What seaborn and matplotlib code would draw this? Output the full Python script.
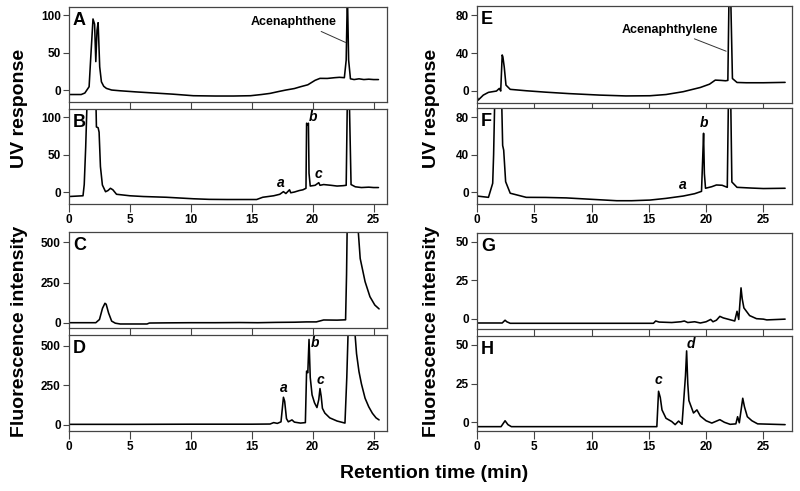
import numpy as np
import pandas as pd
import seaborn as sns
import matplotlib
matplotlib.use("Agg")
import matplotlib.pyplot as plt

# chromatogram traces (time in min, response)
t_a = [0.0, 1.0, 1.3, 1.65, 1.78, 1.97, 2.1, 2.2, 2.3, 2.39, 2.52, 2.66, 2.85, 3.07, 3.5, 4.2, 5.5, 7.0, 8.5, 10.2, 12.0, 13.5, 14.9, 15.8, 16.5, 17.2, 17.8, 18.5, 19.0, 19.6, 20.2, 20.6, 21.2, 21.8, 22.2, 22.6, 22.75, 22.85, 22.95, 23.1, 23.4, 23.8, 24.2, 24.6, 25.0, 25.4]
v_a = [-6, -6, -4, 4.4, 42, 95, 88, 38, 80, 90, 31, 11, 5, 2.2, 0, -1, -2.5, -4, -5.5, -7.6, -8, -8, -7.6, -6, -4.5, -2, 0, 2, 4.4, 7, 13, 15.6, 15.5, 16.5, 17, 16.5, 40, 130, 40, 15, 14, 15, 14, 14.5, 14, 14]

t_b = [0.0, 1.15, 1.25, 1.37, 1.5, 2.2, 2.25, 2.39, 2.47, 2.58, 2.74, 3.0, 3.2, 3.4, 3.6, 3.9, 5.0, 6.1, 8.0, 10.2, 11.5, 13.0, 15.4, 15.9, 16.8, 17.3, 17.6, 17.8, 18.1, 18.2, 18.5, 18.9, 19.2, 19.45, 19.5, 19.6, 19.65, 19.7, 19.8, 20.2, 20.5, 20.6, 20.9, 21.5, 22.0, 22.5, 22.75, 22.85, 23.0, 23.15, 23.5, 24.0, 24.6, 25.0, 25.4]
v_b = [-6, -5, 10, 60, 130, 130, 87, 86, 80, 34, 9.4, 0.4, 2, 5, 3, -3, -5, -6, -7, -9, -9.8, -10, -10, -7, -5, -3, 0.5, -2, 3, -1, 0, 2, 3, 5, 92, 90, 92, 25, 8, 9, 12.5, 9, 10, 9, 8, 8.5, 9, 130, 130, 10, 7, 6, 6.5, 6, 6]

t_c = [0.0, 2.2, 2.5, 2.75, 2.95, 3.05, 3.25, 3.5, 3.8, 4.2, 5.0, 6.4, 6.6, 8.0, 10.0, 12.0, 14.0, 15.5, 17.0, 18.5, 19.5, 20.3, 20.9, 22.0, 22.7, 22.78, 22.85, 23.6, 23.75, 23.9, 24.3, 24.7, 25.1, 25.45]
v_c = [0, 0, 20, 90, 121, 115, 60, 10, -3, -8, -8, -8, -2, -1, 0, 0, 1, 0, 2, 3, 5, 5, 17, 16, 18, 300, 700, 700, 560, 400, 256, 162, 110, 86]

t_d = [0.0, 5.0, 10.0, 15.0, 16.5, 16.8, 17.1, 17.4, 17.6, 17.7, 17.85, 18.0, 18.3, 18.5, 19.0, 19.4, 19.5, 19.6, 19.7, 19.8, 19.95, 20.15, 20.35, 20.5, 20.6, 20.7, 20.8, 21.0, 21.4, 22.0, 22.65, 22.8, 22.95, 23.35, 23.6, 23.8, 24.0, 24.3, 24.6, 24.9, 25.2, 25.45]
v_d = [4, 4, 5, 5, 6, 15, 10, 20, 175, 150, 40, 20, 32, 18, 12, 15, 340, 330, 540, 300, 190, 140, 110, 160, 230, 180, 105, 75, 45, 25, 12, 300, 700, 700, 450, 337, 260, 169, 115, 74, 45, 32]

t_e = [0.0, 0.1, 0.55, 1.0, 1.7, 1.95, 2.07, 2.2, 2.26, 2.38, 2.53, 2.9, 4.3, 6.0, 8.0, 10.7, 13.0, 15.1, 16.5, 18.0, 19.5, 20.3, 20.8, 21.3, 21.7, 21.9, 22.0, 22.15, 22.3, 22.7, 23.5, 25.0, 26.9]
v_e = [-6, -10, -4.6, -1.7, -0.3, 2.5, -0.3, 38, 36, 25, 6, 1.5, 0, -1.5, -3, -4.6, -5.5, -5.3, -4, -1, 3.5, 7, 11.3, 11, 10.6, 11, 100, 100, 13, 8.8, 8.5, 8.5, 8.9]

t_f = [0.0, 1.0, 1.37, 1.45, 1.55, 2.15, 2.24, 2.33, 2.5, 2.9, 4.3, 6.0, 7.8, 10.0, 12.2, 13.5, 15.1, 16.5, 18.0, 19.0, 19.6, 19.7, 19.78, 19.85, 19.95, 20.5, 20.9, 21.4, 21.85, 21.95, 22.15, 22.25, 22.7, 24.0, 25.0, 26.9]
v_f = [-4, -5.4, 9.6, 40, 100, 100, 50, 45, 11.3, -1, -5.4, -5.5, -6, -7.5, -9, -9, -8.3, -6.5, -4, -1.5, 1, 35, 63, 20, 4.3, 6, 7.8, 7.5, 5.3, 100, 100, 11, 5.3, 4.5, 4, 4.3]

t_g = [0.0, 2.2, 2.45, 2.6, 2.9, 5.0, 10.0, 15.4, 15.6, 15.9, 17.0, 17.8, 18.1, 18.4, 19.0, 19.5, 20.0, 20.4, 20.6, 20.9, 21.2, 21.5, 22.0, 22.5, 22.7, 22.85, 23.05, 23.15, 23.3, 23.5, 23.8, 24.4, 25.0, 25.3, 26.9]
v_g = [-2.8, -2.8, -1, -2, -3, -3, -3, -3, -1.5, -2.2, -2.5, -2, -1.5, -2.5, -2, -2.8, -2, -0.5, -2, -1, 1.5, 0.5, -0.5, -1.5, 4.8, -0.5, 20, 13, 7, 5, 2, 0, -0.3, -0.8, -0.3]

t_h = [0.0, 2.1, 2.45, 2.7, 3.0, 10.0, 15.7, 15.85, 16.0, 16.15, 16.5, 17.0, 17.3, 17.6, 17.9, 18.2, 18.3, 18.4, 18.5, 18.9, 19.2, 19.5, 20.0, 20.5, 21.2, 21.6, 22.1, 22.6, 22.75, 22.9, 23.2, 23.35, 23.6, 24.0, 24.5, 26.9]
v_h = [-2.8, -2.8, 1, -1.5, -2.8, -2.8, -2.8, 20, 16, 8, 2.6, 0.5, -1.5, 0.8, -1.3, 30, 46, 25, 14, 6, 8, 4, 1, -0.5, 1.7, 0, -1.3, -1, 3.6, -0.3, 15.5, 10, 3.6, 1, -1, -1.5]

x_ticks = [0, 5, 10, 15, 20, 25]
yt_uv_left = [0, 50, 100]
yt_fl_left = [0, 250, 500]
yt_uv_right = [0, 40, 80]
yt_fl_right = [0, 25, 50]

# peak labels: (text, t, value)
marks_b = [("a", 17.4, 11.6), ("b", 20.0, 100), ("c", 20.5, 24)]
marks_d = [("a", 17.6, 236), ("b", 20.2, 517), ("c", 20.6, 285)]
marks_f = [("a", 18.0, 7.8), ("b", 19.8, 74)]
marks_h = [("c", 15.8, 27.3), ("d", 18.65, 50.5)]

sns.set_style("ticks")
plt.rcParams['font.family'] = ['Liberation Sans', 'DejaVu Sans']
plt.rcParams['font.weight'] = 'bold'
plt.rcParams['text.color'] = 'black'
plt.rcParams['xtick.color'] = 'black'
plt.rcParams['ytick.color'] = 'black'

fig = plt.figure(figsize=(8, 4.91), dpi=100)

W, H = 800.0, 491.0
def rect(x0, x1, y0, y1):
    return [x0 / W, 1 - y1 / H, (x1 - x0) / W, (y1 - y0) / H]

panels = [
    # letter, t, v, rect, ylim, yticks, xlim, xlabels, marks
    ("A", t_a, v_a, rect(69, 387, 7, 102), (-16, 111), yt_uv_left, (0, 26.1), False, []),
    ("B", t_b, v_b, rect(69, 387, 109, 204), (-16, 111), yt_uv_left, (0, 26.1), True, marks_b),
    ("C", t_c, v_c, rect(69, 387, 232, 328), (-33, 565), yt_fl_left, (0, 26.1), False, []),
    ("D", t_d, v_d, rect(69, 387, 335, 431), (-38, 568), yt_fl_left, (0, 26.1), True, marks_d),
    ("E", t_e, v_e, rect(477, 792, 6, 103), (-13, 90), yt_uv_right, (0, 27.5), False, []),
    ("F", t_f, v_f, rect(477, 792, 108, 204), (-12.5, 90), yt_uv_right, (0, 27.5), True, marks_f),
    ("G", t_g, v_g, rect(477, 792, 233, 329), (-6.7, 55.6), yt_fl_right, (0, 27.5), False, []),
    ("H", t_h, v_h, rect(477, 792, 336, 431), (-5.6, 55.6), yt_fl_right, (0, 27.5), True, marks_h),
]

axes = {}
for letter, t, v, r, ylim, yt, xlim, xlab, marks in panels:
    ax = fig.add_axes(r)
    df = pd.DataFrame({"t": t, "v": v})
    sns.lineplot(data=df, x="t", y="v", ax=ax, color="black", lw=1.15,
                 estimator=None, sort=False)
    ax.set_xlim(*xlim)
    ax.set_ylim(*ylim)
    ax.set_xticks(x_ticks)
    ax.set_yticks(yt)
    ax.set_xlabel("")
    ax.set_ylabel("")
    ax.tick_params(axis="both", direction="out", length=4, width=0.8,
                   color="#444444", labelcolor="black", labelsize=8.5, pad=2)
    ax.tick_params(axis="x", length=5.5)
    if not xlab:
        ax.set_xticklabels([])
    for s in ax.spines.values():
        s.set_visible(True)
        s.set_linewidth(0.9)
        s.set_color("#444444")
    for lab in ax.get_xticklabels() + ax.get_yticklabels():
        lab.set_fontweight("bold")
    ax.text(0.012, 0.95, letter, transform=ax.transAxes, ha="left", va="top",
            fontsize=13, fontweight="bold", color="black")
    for txt, mx, my in marks:
        ax.text(mx, my, txt, ha="center", va="center", fontsize=10,
                fontweight="bold", fontstyle="italic", color="black")
    axes[letter] = ax

axes["A"].annotate("Acenaphthene", xy=(22.7, 63.6), xytext=(18.4, 90.7),
                   ha="center", va="center", fontsize=9, fontweight="bold",
                   arrowprops=dict(arrowstyle="-", lw=0.7, color="#333333",
                                   relpos=(0.71, 0.1), shrinkA=0, shrinkB=0))
axes["E"].annotate("Acenaphthylene", xy=(21.75, 42), xytext=(16.8, 65),
                   ha="center", va="center", fontsize=9, fontweight="bold",
                   arrowprops=dict(arrowstyle="-", lw=0.7, color="#333333",
                                   relpos=(0.64, 0.1), shrinkA=0, shrinkB=0))

fig.text(0.024, 0.78, "UV response", rotation=90, ha="center", va="center",
         fontsize=14, fontweight="bold")
fig.text(0.024, 0.325, "Fluorescence intensity", rotation=90, ha="center",
         va="center", fontsize=14, fontweight="bold")
fig.text(0.54, 0.78, "UV response", rotation=90, ha="center", va="center",
         fontsize=14, fontweight="bold")
fig.text(0.54, 0.325, "Fluorescence intensity", rotation=90, ha="center",
         va="center", fontsize=14, fontweight="bold")
fig.text(0.543, 0.035, "Retention time (min)", ha="center", va="center",
         fontsize=14, fontweight="bold")

fig.savefig("out.png", dpi=100)
